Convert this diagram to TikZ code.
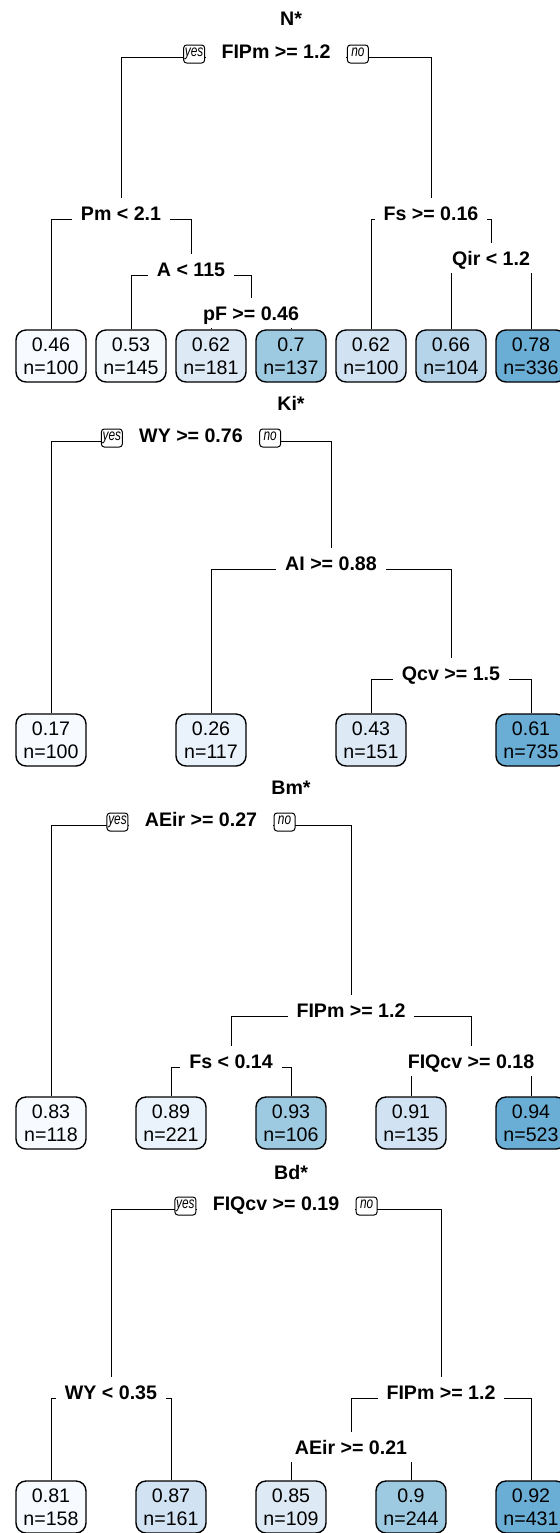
\documentclass[tikz,border=0pt]{standalone}
\usepackage{fontspec}
\setmainfont{Liberation Sans}
\usetikzlibrary{positioning,backgrounds}

\definecolor{bla}{HTML}{F7FBFF}
\definecolor{blb}{HTML}{F3F8FD}
\definecolor{blc}{HTML}{EAF2FB}
\definecolor{bld}{HTML}{DDEAF6}
\definecolor{ble}{HTML}{D1E2F2}
\definecolor{blf}{HTML}{B5D4E9}
\definecolor{blg}{HTML}{9ECAE1}
\definecolor{blh}{HTML}{6AAED6}

\newcommand{\ynlab}[1]{\scalebox{0.74}[1]{#1}}

\tikzset{
  leaf/.style={draw,rounded corners=5pt,line width=0.7pt,minimum width=35pt,
    minimum height=26pt,inner sep=0pt,align=center,
    font=\fontsize{9.8}{11.5}\selectfont},
  split/.style={fill=white,font=\fontsize{9.8}{11}\selectfont\bfseries,
    text height=7pt,text depth=0pt,inner xsep=4.5pt,inner ysep=3.75pt},
  rootsplit/.style={split,inner xsep=8pt},
  yn/.style={draw,fill=white,rounded corners=1.5pt,line width=0.5pt,
    font=\fontsize{8}{8}\selectfont\itshape,inner xsep=0.6pt,inner ysep=0.4pt,
    text height=4.4pt,text depth=1.6pt,
    minimum height=9pt,minimum width=10.5pt,yshift=-1.5pt},
  ttl/.style={font=\fontsize{9.8}{11}\selectfont\bfseries},
  branch/.style={line width=0.8pt},
}

\begin{document}
\begin{tikzpicture}[x=0.5pt,y=-0.5pt,line cap=rect]
\useasboundingbox (0,0) rectangle (560,1533);

% N*
\node[ttl] (t1) at (291,19) {N*};
\node[rootsplit] (r1) at (276,51) {FIPm >= 1.2};
\node[yn,left=0pt of r1] (r1y) {\ynlab{yes}};
\node[yn,right=0pt of r1] (r1n) {\ynlab{no}};
\node[split] (pm1) at (121,213) {Pm < 2.1};
\node[split] (a1) at (191,269) {A < 115};
\node[split] (pf1) at (251,313) {pF >= 0.46};
\node[split] (fs1) at (431,213) {Fs >= 0.16};
\node[split] (qir1) at (491,258) {Qir < 1.2};
\node[leaf,fill=bla] (l11) at (51,356) {0.46\\n=100};
\node[leaf,fill=blb] (l12) at (131,356) {0.53\\n=145};
\node[leaf,fill=bld] (l13) at (211,356) {0.62\\n=181};
\node[leaf,fill=blg] (l14) at (291,356) {0.7\\n=137};
\node[leaf,fill=ble] (l15) at (371,356) {0.62\\n=100};
\node[leaf,fill=blf] (l16) at (451,356) {0.66\\n=104};
\node[leaf,fill=blh] (l17) at (531,356) {0.78\\n=336};

% Ki*
\node[ttl] (t2) at (291,403) {Ki*};
\node[rootsplit] (r2) at (191,435) {WY >= 0.76};
\node[yn,left=0pt of r2] (r2y) {\ynlab{yes}};
\node[yn,right=0pt of r2] (r2n) {\ynlab{no}};
\node[split] (ai2) at (331,563) {AI >= 0.88};
\node[split] (qcv2) at (451,673) {Qcv >= 1.5};
\node[leaf,fill=bla] (l21) at (51,740) {0.17\\n=100};
\node[leaf,fill=blc] (l22) at (211,740) {0.26\\n=117};
\node[leaf,fill=bld] (l23) at (371,740) {0.43\\n=151};
\node[leaf,fill=blh] (l24) at (531,740) {0.61\\n=735};

% Bm*
\node[ttl] (t3) at (291,788) {Bm*};
\node[rootsplit] (r3) at (201,819) {AEir >= 0.27};
\node[yn,left=0pt of r3] (r3y) {\ynlab{yes}};
\node[yn,right=0pt of r3] (r3n) {\ynlab{no}};
\node[split] (pm3) at (351,1010) {FIPm >= 1.2};
\node[split] (fs3) at (231,1061) {Fs < 0.14};
\node[split] (qcv3) at (471,1061) {FIQcv >= 0.18};
\node[leaf,fill=bla] (l31) at (51,1123) {0.83\\n=118};
\node[leaf,fill=blc] (l32) at (171,1123) {0.89\\n=221};
\node[leaf,fill=blg] (l33) at (291,1123) {0.93\\n=106};
\node[leaf,fill=ble] (l34) at (411,1123) {0.91\\n=135};
\node[leaf,fill=blh] (l35) at (531,1123) {0.94\\n=523};

% Bd*
\node[ttl] (t4) at (291,1172) {Bd*};
\node[rootsplit] (r4) at (276,1203) {FIQcv >= 0.19};
\node[yn,left=0pt of r4] (r4y) {\ynlab{yes}};
\node[yn,right=0pt of r4] (r4n) {\ynlab{no}};
\node[split] (wy4) at (111,1392) {WY < 0.35};
\node[split] (pm4) at (441,1392) {FIPm >= 1.2};
\node[split] (ae4) at (351,1447) {AEir >= 0.21};
\node[leaf,fill=bla] (l41) at (51,1507) {0.81\\n=158};
\node[leaf,fill=ble] (l42) at (171,1507) {0.87\\n=161};
\node[leaf,fill=bld] (l43) at (291,1507) {0.85\\n=109};
\node[leaf,fill=blg] (l44) at (411,1507) {0.9\\n=244};
\node[leaf,fill=blh] (l45) at (531,1507) {0.92\\n=431};

% branches behind the labels
\begin{scope}[on background layer,branch]
\draw ([yshift=-3pt]r1.center) -| (pm1);
\draw ([yshift=-3pt]r1.center) -| (fs1);
\draw ([yshift=-3pt]pm1.center) -| (l11);
\draw ([yshift=-3pt]pm1.center) -| (a1);
\draw ([yshift=-3pt]a1.center) -| (l12);
\draw ([yshift=-3pt]a1.center) -| (pf1);
\draw ([yshift=-3pt]pf1.center) -| (l13);
\draw ([yshift=-3pt]pf1.center) -| (l14);
\draw ([yshift=-3pt]fs1.center) -| (l15);
\draw ([yshift=-3pt]fs1.center) -| (qir1);
\draw ([yshift=-3pt]qir1.center) -| (l16);
\draw ([yshift=-3pt]qir1.center) -| (l17);

\draw ([yshift=-3pt]r2.center) -| (l21);
\draw ([yshift=-3pt]r2.center) -| (ai2);
\draw ([yshift=-3pt]ai2.center) -| (l22);
\draw ([yshift=-3pt]ai2.center) -| (qcv2);
\draw ([yshift=-3pt]qcv2.center) -| (l23);
\draw ([yshift=-3pt]qcv2.center) -| (l24);

\draw ([yshift=-3pt]r3.center) -| (l31);
\draw ([yshift=-3pt]r3.center) -| (pm3);
\draw ([yshift=-3pt]pm3.center) -| (fs3);
\draw ([yshift=-3pt]pm3.center) -| (qcv3);
\draw ([yshift=-3pt]fs3.center) -| (l32);
\draw ([yshift=-3pt]fs3.center) -| (l33);
\draw ([yshift=-3pt]qcv3.center) -| (l34);
\draw ([yshift=-3pt]qcv3.center) -| (l35);

\draw ([yshift=-3pt]r4.center) -| (wy4);
\draw ([yshift=-3pt]r4.center) -| (pm4);
\draw ([yshift=-3pt]wy4.center) -| (l41);
\draw ([yshift=-3pt]wy4.center) -| (l42);
\draw ([yshift=-3pt]pm4.center) -| (ae4);
\draw ([yshift=-3pt]pm4.center) -| (l45);
\draw ([yshift=-3pt]ae4.center) -| (l43);
\draw ([yshift=-3pt]ae4.center) -| (l44);
\end{scope}
\end{tikzpicture}
\end{document}
